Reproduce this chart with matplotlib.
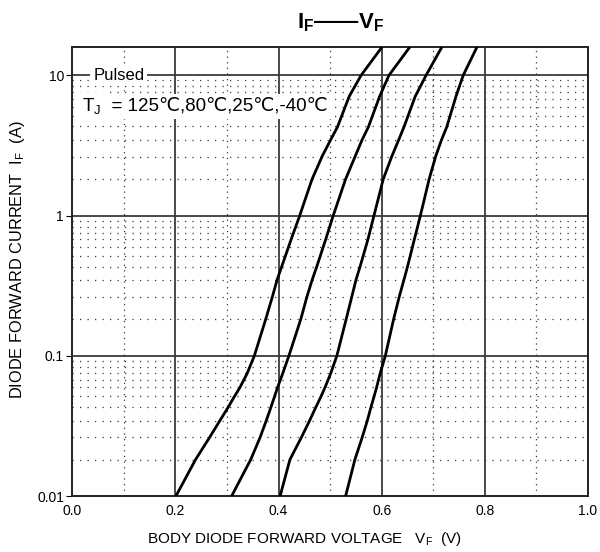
import numpy as np
import matplotlib
matplotlib.use("Agg")
import matplotlib.pyplot as plt
from matplotlib.ticker import FixedLocator, NullFormatter

plt.rcParams['font.family'] = ['Liberation Sans', 'DejaVu Sans']
plt.rcParams['mathtext.fontset'] = 'custom'
plt.rcParams['mathtext.rm'] = 'Liberation Sans'
plt.rcParams['mathtext.it'] = 'Liberation Sans'
plt.rcParams['mathtext.bf'] = 'Liberation Sans:bold'

# ---- data ----
temps = ["125℃", "80℃", "25℃", "-40℃"]
current = [0.01, 0.0182, 0.0261, 0.0344, 0.0428, 0.051, 0.0594, 0.0748, 0.1,
           0.182, 0.264, 0.347, 0.432, 0.67, 1.0, 1.82, 2.67, 3.47, 4.27,
           7.08, 10.0, 16.0]
vf_125 = [0.201, 0.239, 0.266, 0.286, 0.302, 0.314, 0.325, 0.339, 0.353,
          0.375, 0.388, 0.397, 0.406, 0.424, 0.441, 0.465, 0.485, 0.501, 0.514,
          0.537, 0.560, 0.601]
vf_80 = [0.309, 0.346, 0.364, 0.376, 0.385, 0.392, 0.398, 0.408, 0.420,
         0.443, 0.455, 0.465, 0.474, 0.491, 0.506, 0.530, 0.549, 0.562, 0.574,
         0.596, 0.614, 0.655]
vf_25 = [0.403, 0.422, 0.444, 0.460, 0.472, 0.482, 0.490, 0.501, 0.513,
         0.531, 0.542, 0.550, 0.558, 0.573, 0.585, 0.603, 0.620, 0.633, 0.643,
         0.665, 0.686, 0.717]
vf_m40 = [0.530, 0.548, 0.562, 0.572, 0.579, 0.585, 0.590, 0.597, 0.607,
          0.623, 0.634, 0.643, 0.650, 0.663, 0.675, 0.692, 0.705, 0.716, 0.726,
          0.744, 0.758, 0.785]
x_ticks = [0.0, 0.2, 0.4, 0.6, 0.8, 1.0]
x_labels = ["0.0", "0.2", "0.4", "0.6", "0.8", "1.0"]
y_ticks = [0.01, 0.1, 1, 10]
y_labels = ["0.01", "0.1", "1", "10"]

fig = plt.figure(figsize=(6.0, 5.52), dpi=100)
ax = fig.add_axes([0.1205, 0.1014, 0.8595, 0.814])
ax.set_yscale('log')
ax.set_xlim(0, 1.0)
ax.set_ylim(0.01, 16.0)

gcol = '#3a3a3a'
# dotted minor grid
minor_x = [0.1, 0.3, 0.5, 0.7, 0.9]
for xv in minor_x:
    ax.axvline(xv, color=gcol, lw=0.9, ls=(0, (1, 3.5)), zorder=1)
offs = [0.036, 0.079, 0.122, 0.170, 0.225, 0.290, 0.364, 0.462, 0.579, 0.740]
for d in [0.1, 1.0, 10.0]:
    for o in offs:
        ax.axhline(d * 10 ** (-o), color=gcol, lw=0.9, ls=(0, (1, 5)), zorder=1)
# solid major grid
for xv in [0.2, 0.4, 0.6, 0.8]:
    ax.axvline(xv, color=gcol, lw=1.3, zorder=2)
for yv in [0.1, 1, 10]:
    ax.axhline(yv, color=gcol, lw=1.3, zorder=2)

for vf in (vf_125, vf_80, vf_25, vf_m40):
    ax.plot(vf, current, color='black', lw=2.0, zorder=5,
            solid_joinstyle='round', solid_capstyle='butt')

ax.set_xticks(x_ticks)
ax.set_xticklabels(x_labels)
ax.set_yticks(y_ticks)
ax.set_yticklabels(y_labels)
ax.yaxis.set_minor_locator(FixedLocator([]))
ax.yaxis.set_minor_formatter(NullFormatter())
ax.tick_params(axis='x', length=0, labelsize=10, pad=6)
ax.tick_params(axis='y', which='major', length=4, direction='out', labelsize=10, pad=2)
for s in ax.spines.values():
    s.set_linewidth(1.4)
    s.set_color('#222222')

ax.set_xlabel(r'BODY DIODE FORWARD VOLTAGE   V$_\mathrm{F}$  (V)', fontsize=11, labelpad=7)
ax.xaxis.set_label_coords(0.451, -0.075)
ax.set_ylabel(r'DIODE FORWARD CURRENT  I$_\mathrm{F}$  (A)', fontsize=11.8, labelpad=6)
ax.yaxis.set_label_coords(-0.088, 0.527)

fig.text(0.567, 0.958, r'$\mathbf{I_F}$' + '——' + r'$\mathbf{V_F}$',
         ha='center', va='center', fontsize=16, fontweight='bold')

ax.text(0.09, 10, 'Pulsed', ha='center', va='center', fontsize=12, zorder=6,
        bbox=dict(facecolor='white', edgecolor='none', pad=2))

t1 = ax.text(0.018, 5.6, r'T$_\mathrm{J}$', ha='left', va='baseline',
             fontsize=13.5, zorder=7,
             bbox=dict(facecolor='white', edgecolor='none', pad=3))
fig.canvas.draw()
r = fig.canvas.get_renderer()
ext = t1.get_window_extent(renderer=r)
x_right = ax.transData.inverted().transform((ext.x1, ext.y0))[0]
ax.text(x_right, 5.6, '  = ' + ','.join(temps), ha='left', va='baseline',
        fontsize=13.5, zorder=6, family=['Liberation Sans', 'DejaVu Sans'],
        bbox=dict(facecolor='white', edgecolor='none', pad=3))

fig.savefig('out.png', dpi=100)
